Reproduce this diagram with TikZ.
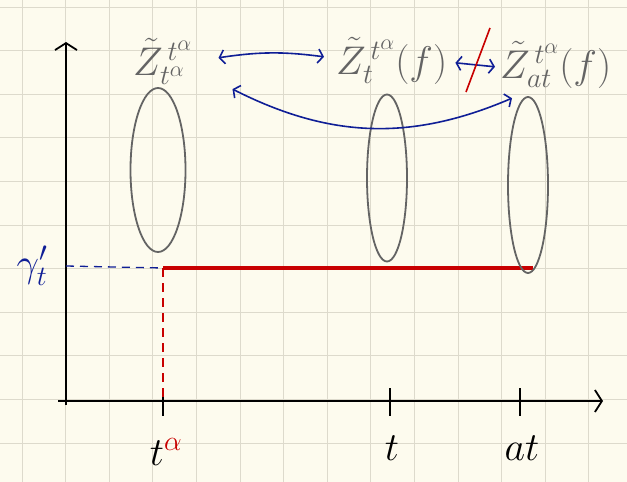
\RequirePackage{fix-cm}
\documentclass[tikz,border=0pt]{standalone}
\usepackage{tikz}
\usepackage{xcolor}
\usetikzlibrary{arrows.meta,shapes.geometric}
\DeclareMathSizes{40}{40}{28}{22}

\begin{document}
\begin{tikzpicture}[x=1pt,y=-1pt,font=\fontsize{40}{46}\selectfont]

    \definecolor{paper}{RGB}{253,251,238}
    \definecolor{gridc}{RGB}{221,218,204}
    \definecolor{inkb}{RGB}{15,30,150}
    \definecolor{inkr}{RGB}{200,0,0}
    \definecolor{inkg}{RGB}{100,100,100}

    \tikzset{
        blob/.style={ellipse,draw=inkg,line width=1.8pt,inner sep=0pt},
        lbl/.style={text=inkg,inner sep=0pt,anchor=base west},
        link/.style={inkb,line width=1.6pt,{Straight Barb[length=5pt,width=14pt]}-{Straight Barb[length=5pt,width=14pt]}},
        axis/.style={line width=1.8pt,-{Straight Barb[length=7pt,width=22pt]}}
    }

    \fill[paper] (0,0) rectangle (627,482);
    \useasboundingbox (0,0) rectangle (627,482);
    \foreach \i in {0,...,14}
    \draw[gridc,line width=1pt] ({22+43.6*\i},0) -- ({22+43.6*\i},482);
    \foreach \j in {0,...,11}
    \draw[gridc,line width=1pt] (0,{7+43.6*\j}) -- (627,{7+43.6*\j});

    \coordinate (ytop) at (66,42);
    \coordinate (xend) at (603,401);
    \draw[axis] (66,405) -- (ytop);
    \draw[axis] (58,401) -- (xend);

    \foreach \x/\n in {163/ta,390/tt,520/tat}
    \draw[line width=1.8pt] (\x,388) -- (\x,416) coordinate (\n);

    \node (lta) at (166,452) {$t^{\textcolor{inkr}{\alpha}}$};
    \node (lt) at (392,448) {$t$};
    \node (lat) at (522,448) {$at$};
    \node[text=inkb] (lg) at (32,266) {$\gamma'_t$};

    \coordinate (lv) at (163,268);
    \coordinate (lvend) at (533,268);
    \coordinate (lvdown) at (163,403);
    \draw[inkb,line width=1.3pt,dashed,dash pattern=on 8pt off 6pt] (66,266) -- (lv);
    \draw[inkr,line width=2.6pt,dashed,dash pattern=on 9pt off 6pt] (lv) -- (lvdown);
    \draw[inkr,line width=4pt] (lv) -- (lvend);

    \node[blob,minimum width=55pt,minimum height=164pt] (el) at (158,170) {};
    \node[blob,minimum width=40pt,minimum height=167pt] (em) at (387,178) {};
    \node[blob,minimum width=40pt,minimum height=176pt] (er) at (528,185) {};

    \node[lbl] (zl) at (133,75) {$\tilde{Z}^{\,t^\alpha}_{t^\alpha}$};
    \node[lbl] (zm) at (336,74) {$\tilde{Z}^{\,t^\alpha}_{t}(f)$};
    \node[lbl] (zr) at (500,78) {$\tilde{Z}^{\,t^\alpha}_{at}(f)$};

    \draw[link] ([xshift=26pt,yshift=4pt]zl.east) to[bend left=8] ([xshift=-12pt,yshift=4pt]zm.west);
    \draw[link] ([xshift=8pt,yshift=-2pt]zm.east) -- ([xshift=-5pt,yshift=-2pt]zr.west);
    \draw[link] ([xshift=40pt,yshift=-4pt]zl.south east) to[bend right=25] ([xshift=12pt,yshift=-10pt]zr.south west);
    \draw[inkr,line width=1.6pt] (466,92) -- (490,28);

\end{tikzpicture}
\end{document}
